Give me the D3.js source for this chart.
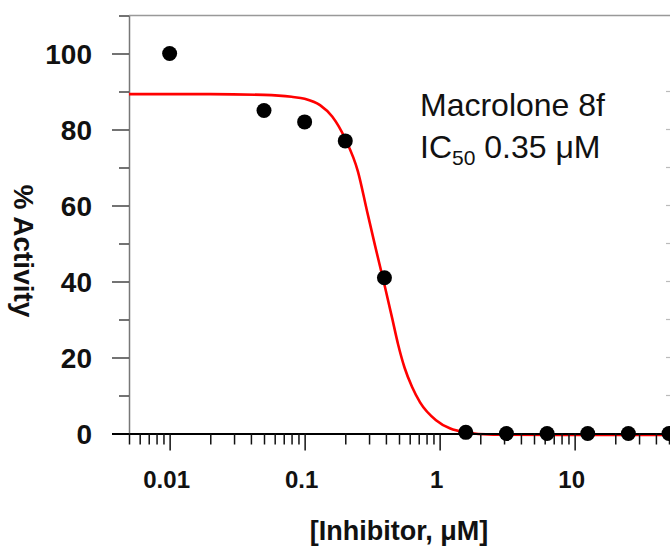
<!DOCTYPE html>
<html>
<head>
    <meta charset="utf-8">
    <script src="https://d3js.org/d3.v7.min.js"></script>
    <style>
        body {
            margin: 0;
            background: #fff;
        }
        text {
            font-family: "Liberation Sans", Arial, sans-serif;
        }
        .tick-label {
            font-weight: bold;
            fill: #111;
        }
    </style>
</head>
<body>
    <svg id="chart" width="670" height="550"></svg>
    <script>
        // measured points
        var concentrations = [0.01, 0.05, 0.1, 0.2, 0.39, 1.5625, 3.125, 6.25, 12.5, 25, 50];
        var activity = [100, 85, 82, 77, 41, 0.3, 0, 0, 0, 0, 0];

        // fitted curve
        var fitConc = [0.005, 0.02, 0.05, 0.08, 0.1, 0.13, 0.16, 0.2, 0.248, 0.29, 0.332, 0.394, 0.444, 0.492, 0.55, 0.624, 0.716, 0.94, 1.2, 1.5, 2.5, 50];
        var fitActivity = [89.3, 89.3, 89.1, 88.6, 88.1, 86.4, 83.4, 77.5, 69, 58.5, 49.5, 38.5, 30.5, 23.5, 17.3, 12.3, 8.2, 3.5, 1.3, 0.4, -0.3, -0.4];

        var xMajor = [0.01, 0.1, 1, 10];
        var xMajorLabels = ["0.01", "0.1", "1", "10"];
        var yMajor = [0, 20, 40, 60, 80, 100];
        var yMinor = [10, 30, 50, 70, 90, 110];
        var yRight = [10, 20, 30, 40, 50, 60, 70, 80, 90];

        var svg = d3.select("#chart");
        var plotLeft = 129, plotRight = 669, plotTop = 15.5, plotBottom = 433.5;

        var x = d3.scaleLog().domain([0.005, 50]).range([plotLeft, plotRight]);
        var y = d3.scaleLinear().domain([0, 110]).range([plotBottom, plotTop]);

        // minor x ticks 2..9 of every decade
        var xMinor = [];
        [0.001, 0.01, 0.1, 1, 10].forEach(function(d) {
            for (var k = 2; k <= 9; k++) {
                var v = +(d * k).toPrecision(3);
                if (v >= 0.005 && v <= 50) xMinor.push(v);
            }
        });

        // top frame
        svg.append("line")
            .attr("x1", plotLeft).attr("x2", 670)
            .attr("y1", plotTop).attr("y2", plotTop)
            .attr("stroke", "#999").attr("stroke-width", 1.5);

        // faint right-hand ticks
        svg.append("g").selectAll("line")
            .data(yRight).enter()
            .append("line")
            .attr("x1", 666).attr("x2", 670)
            .attr("y1", function(d) { return y(d); })
            .attr("y2", function(d) { return y(d); })
            .attr("stroke", "#bbb").attr("stroke-width", 1.2);

        // y axis
        var yAxis = svg.append("g")
            .attr("transform", "translate(" + plotLeft + ",0)")
            .call(d3.axisLeft(y).tickValues(yMajor).tickSize(17).tickSizeOuter(0).tickFormat(""));
        yAxis.select(".domain").attr("stroke", "#777").attr("stroke-width", 1.5);
        yAxis.selectAll(".tick line").attr("stroke", "#444").attr("stroke-width", 1.5);

        var yAxisMinor = svg.append("g")
            .attr("transform", "translate(" + plotLeft + ",0)")
            .call(d3.axisLeft(y).tickValues(yMinor).tickSize(10).tickSizeOuter(0).tickFormat(""));
        yAxisMinor.select(".domain").remove();
        yAxisMinor.selectAll(".tick line").attr("stroke", "#444").attr("stroke-width", 1.5);

        svg.append("g").selectAll("text")
            .data(yMajor).enter()
            .append("text")
            .attr("class", "tick-label")
            .attr("x", 92)
            .attr("y", function(d) { return y(d); })
            .attr("dy", "0.36em")
            .attr("text-anchor", "end")
            .attr("font-size", 28)
            .text(function(d) { return d; });

        // fitted curve
        var line = d3.line()
            .x(function(d, i) { return x(fitConc[i]); })
            .y(function(d) { return y(d); })
            .curve(d3.curveMonotoneX);

        svg.append("path")
            .datum(fitActivity)
            .attr("d", line)
            .attr("fill", "none")
            .attr("stroke", "#ff0000")
            .attr("stroke-width", 2.6);

        // x axis
        var xAxis = svg.append("g")
            .attr("transform", "translate(0," + plotBottom + ")")
            .call(d3.axisBottom(x).tickValues(xMajor).tickSize(17).tickSizeOuter(0).tickFormat(""));
        xAxis.select(".domain").attr("stroke", "#000").attr("stroke-width", 2);
        xAxis.selectAll(".tick line").attr("stroke", "#111").attr("stroke-width", 1.5);

        var xAxisMinor = svg.append("g")
            .attr("transform", "translate(0," + plotBottom + ")")
            .call(d3.axisBottom(x).tickValues(xMinor).tickSize(11).tickSizeOuter(0).tickFormat(""));
        xAxisMinor.select(".domain").remove();
        xAxisMinor.selectAll(".tick line").attr("stroke", "#111").attr("stroke-width", 1.5);

        // zero tick runs into the x axis
        yAxis.selectAll(".tick").filter(function(d) { return d === 0; })
            .select("line").attr("stroke", "#000").attr("stroke-width", 2);

        svg.append("g").selectAll("text")
            .data(xMajor).enter()
            .append("text")
            .attr("class", "tick-label")
            .attr("x", function(d) { return x(d) - 3; })
            .attr("y", 488)
            .attr("text-anchor", "middle")
            .attr("font-size", 24)
            .text(function(d, i) { return xMajorLabels[i]; });

        // data points
        svg.append("g").selectAll("circle")
            .data(activity).enter()
            .append("circle")
            .attr("cx", function(d, i) { return x(concentrations[i]); })
            .attr("cy", function(d) { return y(d); })
            .attr("r", 7.5)
            .attr("fill", "#000");

        // axis titles
        svg.append("text")
            .attr("x", (plotLeft + plotRight) / 2)
            .attr("y", 540)
            .attr("text-anchor", "middle")
            .attr("font-size", 27)
            .attr("font-weight", "bold")
            .attr("fill", "#111")
            .text("[Inhibitor, \u03bcM]");

        svg.append("text")
            .attr("transform", "translate(14,251) rotate(90)")
            .attr("text-anchor", "middle")
            .attr("font-size", 28)
            .attr("font-weight", "bold")
            .attr("fill", "#111")
            .text("% Activity");

        // annotation
        svg.append("text")
            .attr("x", 420)
            .attr("y", 116)
            .attr("font-size", 32)
            .attr("fill", "#111")
            .text("Macrolone 8f");

        var ic = svg.append("text")
            .attr("x", 420)
            .attr("y", 158)
            .attr("font-size", 32)
            .attr("fill", "#111");
        ic.append("tspan").text("IC");
        ic.append("tspan").attr("font-size", 21).attr("dy", 7).text("50");
        ic.append("tspan").attr("dy", -7).text(" 0.35 \u03bcM");
    </script>
</body>
</html>
